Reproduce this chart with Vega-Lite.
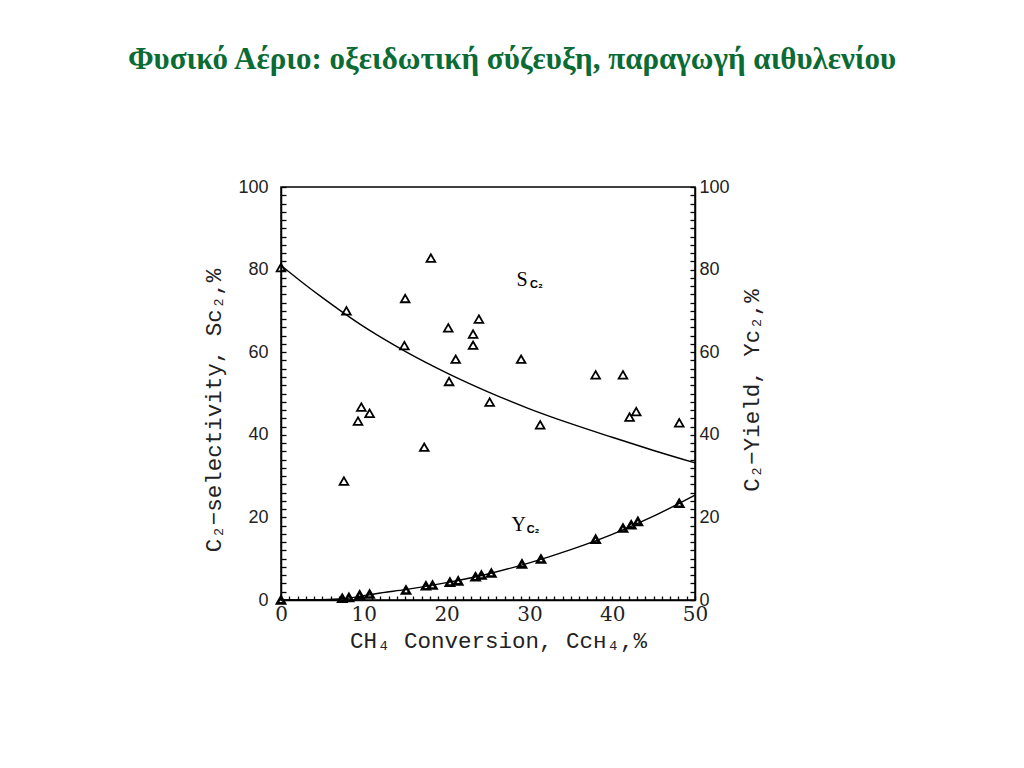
{
  "$schema": "https://vega.github.io/schema/vega-lite/v6.json",
  "width": 414,
  "height": 413,
  "autosize": {"type": "none"},
  "padding": {"left": 281, "top": 187, "right": 329, "bottom": 168},
  "background": "white",
  "title": {
    "text": "Φυσικό Αέριο: οξειδωτική σύζευξη, παραγωγή αιθυλενίου",
    "font": "Liberation Serif",
    "fontSize": 31,
    "fontWeight": "bold",
    "color": "#0B6B35",
    "anchor": "middle",
    "offset": 102,
    "dx": 24
  },
  "config": {
    "view": {"stroke": "black", "strokeWidth": 1.5},
    "axis": {"domainColor": "black", "domainWidth": 1.5, "tickColor": "black", "tickWidth": 1.3, "labelColor": "#222", "titleColor": "#222", "grid": false, "labelOverlap": false, "labelBound": false, "labelFlush": false, "zindex": 1}
  },
  "datasets": {
    "S_points": [
      {"conversion": 0, "selectivity": 80.5},
      {"conversion": 7.9, "selectivity": 70.0},
      {"conversion": 7.6, "selectivity": 28.8},
      {"conversion": 9.3, "selectivity": 43.3},
      {"conversion": 9.7, "selectivity": 46.7},
      {"conversion": 10.7, "selectivity": 45.2},
      {"conversion": 14.9, "selectivity": 61.6},
      {"conversion": 15.0, "selectivity": 73.0},
      {"conversion": 17.3, "selectivity": 37.0},
      {"conversion": 18.1, "selectivity": 82.8},
      {"conversion": 20.2, "selectivity": 65.9},
      {"conversion": 20.3, "selectivity": 52.9},
      {"conversion": 21.1, "selectivity": 58.3},
      {"conversion": 23.2, "selectivity": 64.4},
      {"conversion": 23.2, "selectivity": 61.7},
      {"conversion": 23.9, "selectivity": 68.0},
      {"conversion": 25.2, "selectivity": 47.9},
      {"conversion": 29.0, "selectivity": 58.3},
      {"conversion": 31.3, "selectivity": 42.4},
      {"conversion": 38.0, "selectivity": 54.5},
      {"conversion": 41.3, "selectivity": 54.5},
      {"conversion": 42.1, "selectivity": 44.3},
      {"conversion": 42.9, "selectivity": 45.6},
      {"conversion": 48.1, "selectivity": 42.9}
    ],
    "S_curve": [
      {"conversion": 0, "selectivity": 81},
      {"conversion": 2.5, "selectivity": 77},
      {"conversion": 5, "selectivity": 73.2},
      {"conversion": 7.5, "selectivity": 69.6},
      {"conversion": 10, "selectivity": 66.2},
      {"conversion": 12.5, "selectivity": 63.1},
      {"conversion": 15, "selectivity": 60.2},
      {"conversion": 20, "selectivity": 55.0},
      {"conversion": 25, "selectivity": 50.4},
      {"conversion": 30, "selectivity": 46.3},
      {"conversion": 35, "selectivity": 42.7},
      {"conversion": 40, "selectivity": 39.4},
      {"conversion": 45, "selectivity": 36.2},
      {"conversion": 50, "selectivity": 33.2}
    ],
    "Y_points": [
      {"conversion": 0, "yield": 0},
      {"conversion": 7.4, "yield": 0.4},
      {"conversion": 8.2, "yield": 0.6},
      {"conversion": 9.5, "yield": 1.2},
      {"conversion": 10.7, "yield": 1.4},
      {"conversion": 15.1, "yield": 2.4},
      {"conversion": 17.5, "yield": 3.4},
      {"conversion": 18.3, "yield": 3.6},
      {"conversion": 20.4, "yield": 4.3},
      {"conversion": 21.4, "yield": 4.6},
      {"conversion": 23.5, "yield": 5.6},
      {"conversion": 24.2, "yield": 6.0},
      {"conversion": 25.4, "yield": 6.5},
      {"conversion": 29.1, "yield": 8.7},
      {"conversion": 31.4, "yield": 9.9},
      {"conversion": 38.0, "yield": 14.7},
      {"conversion": 41.3, "yield": 17.4},
      {"conversion": 42.3, "yield": 18.2},
      {"conversion": 43.1, "yield": 19.0},
      {"conversion": 48.1, "yield": 23.4}
    ],
    "Y_curve": [
      {"conversion": 0, "yield": 0},
      {"conversion": 4, "yield": 0.05},
      {"conversion": 7, "yield": 0.25},
      {"conversion": 9, "yield": 0.7},
      {"conversion": 10, "yield": 1.05},
      {"conversion": 12, "yield": 1.7},
      {"conversion": 15, "yield": 2.5},
      {"conversion": 20, "yield": 4.2},
      {"conversion": 25, "yield": 6.3},
      {"conversion": 30, "yield": 9.0},
      {"conversion": 35, "yield": 12.2},
      {"conversion": 40, "yield": 15.9},
      {"conversion": 45, "yield": 20.3},
      {"conversion": 50, "yield": 25.4}
    ],
    "S_label": [{"conversion": 29.1, "selectivity": 77.5, "main": "S", "sub": "C₂"}],
    "Y_label": [{"conversion": 28.7, "yield": 18.2, "main": "Y", "sub": "C₂"}]
  },
  "layer": [
    {
      "layer": [
        {
          "data": {"name": "S_curve"},
          "mark": {"type": "line", "interpolate": "monotone", "color": "black", "strokeWidth": 1.4},
          "encoding": {
            "x": {
              "field": "conversion", "type": "quantitative",
              "scale": {"domain": [0, 50], "nice": false},
              "axis": {
                "title": "CH₄ Conversion,  Cᴄʜ₄,%",
                "titleFont": "Liberation Mono", "titleFontSize": 22.5, "titleFontWeight": "normal", "titlePadding": 5,
                "titleX": 217,
                "values": [0,1,2,3,4,5,6,7,8,9,10,11,12,13,14,15,16,17,18,19,20,21,22,23,24,25,26,27,28,29,30,31,32,33,34,35,36,37,38,39,40,41,42,43,44,45,46,47,48,49,50],
                "tickCount": 60,
                "labelExpr": "datum.value % 10 === 0 ? datum.label : ''",
                "labelFont": "DejaVu Serif", "labelFontSize": 20, "labelPadding": 8,
                "labelOverlap": false, "labelFlush": false,
                "tickSize": -4
              }
            },
            "y": {
              "field": "selectivity", "type": "quantitative",
              "scale": {"domain": [0, 100], "nice": false},
              "axis": {
                "title": "C₂−selectivity,  Sᴄ₂,%",
                "titleFont": "Liberation Mono", "titleFontSize": 22.5, "titleFontWeight": "normal", "titlePadding": 12,
                "titleY": 223,
                "values": [0,2,4,6,8,10,12,14,16,18,20,22,24,26,28,30,32,34,36,38,40,42,44,46,48,50,52,54,56,58,60,62,64,66,68,70,72,74,76,78,80,82,84,86,88,90,92,94,96,98,100],
                "tickCount": 60,
                "labelExpr": "datum.value % 20 === 0 ? datum.label : ''",
                "labelFont": "Liberation Sans", "labelFontSize": 18, "labelPadding": 18,
                "labelOverlap": false, "labelFlush": false,
                "tickSize": -5,
                "encode": {"ticks": {"update": {"x2": {"signal": "datum.value % 20 === 0 ? 8 : 5"}}}}
              }
            }
          }
        },
        {
          "data": {"name": "S_points"},
          "mark": {"type": "point", "shape": "triangle-up", "filled": false, "color": "black", "opacity": 1, "strokeWidth": 1.8, "size": 75},
          "encoding": {
            "x": {"field": "conversion", "type": "quantitative"},
            "y": {"field": "selectivity", "type": "quantitative"}
          }
        },
        {
          "data": {"name": "S_label"},
          "mark": {"type": "text", "font": "Liberation Serif", "fontSize": 20, "color": "black", "align": "center", "baseline": "middle"},
          "encoding": {
            "x": {"field": "conversion", "type": "quantitative"},
            "y": {"field": "selectivity", "type": "quantitative"},
            "text": {"field": "main"}
          }
        },
        {
          "data": {"name": "S_label"},
          "mark": {"type": "text", "font": "Liberation Sans", "fontSize": 11, "fontWeight": "bold", "color": "black", "align": "left", "baseline": "middle", "dx": 8, "dy": 5},
          "encoding": {
            "x": {"field": "conversion", "type": "quantitative"},
            "y": {"field": "selectivity", "type": "quantitative"},
            "text": {"field": "sub"}
          }
        }
      ]
    },
    {
      "layer": [
        {
          "data": {"name": "Y_curve"},
          "mark": {"type": "line", "interpolate": "monotone", "color": "black", "strokeWidth": 1.4},
          "encoding": {
            "x": {"field": "conversion", "type": "quantitative"},
            "y": {
              "field": "yield", "type": "quantitative",
              "scale": {"domain": [0, 100], "nice": false},
              "axis": {
                "orient": "right",
                "title": "C₂−Yield,  Yᴄ₂,%",
                "titleFont": "Liberation Mono", "titleFontSize": 22.5, "titleFontWeight": "normal", "titlePadding": 34, "titleAngle": 270,
                "titleY": 203,
                "values": [0,2,4,6,8,10,12,14,16,18,20,22,24,26,28,30,32,34,36,38,40,42,44,46,48,50,52,54,56,58,60,62,64,66,68,70,72,74,76,78,80,82,84,86,88,90,92,94,96,98,100],
                "tickCount": 60,
                "labelExpr": "datum.value % 20 === 0 ? datum.label : ''",
                "labelFont": "Liberation Sans", "labelFontSize": 18, "labelPadding": 9,
                "labelOverlap": false, "labelFlush": false,
                "tickSize": -5,
                "encode": {"labels": {"update": {"dy": {"signal": "datum.value === 0 ? -5 : 0"}}}}
              }
            }
          }
        },
        {
          "data": {"name": "Y_points"},
          "mark": {"type": "point", "shape": "triangle-up", "filled": false, "color": "black", "opacity": 1, "strokeWidth": 2.6, "size": 60},
          "encoding": {
            "x": {"field": "conversion", "type": "quantitative"},
            "y": {"field": "yield", "type": "quantitative"}
          }
        },
        {
          "data": {"name": "Y_label"},
          "mark": {"type": "text", "font": "Liberation Serif", "fontSize": 20, "color": "black", "align": "center", "baseline": "middle"},
          "encoding": {
            "x": {"field": "conversion", "type": "quantitative"},
            "y": {"field": "yield", "type": "quantitative"},
            "text": {"field": "main"}
          }
        },
        {
          "data": {"name": "Y_label"},
          "mark": {"type": "text", "font": "Liberation Sans", "fontSize": 11, "fontWeight": "bold", "color": "black", "align": "left", "baseline": "middle", "dx": 8, "dy": 5},
          "encoding": {
            "x": {"field": "conversion", "type": "quantitative"},
            "y": {"field": "yield", "type": "quantitative"},
            "text": {"field": "sub"}
          }
        }
      ]
    }
  ],
  "resolve": {"scale": {"y": "independent"}}
}
